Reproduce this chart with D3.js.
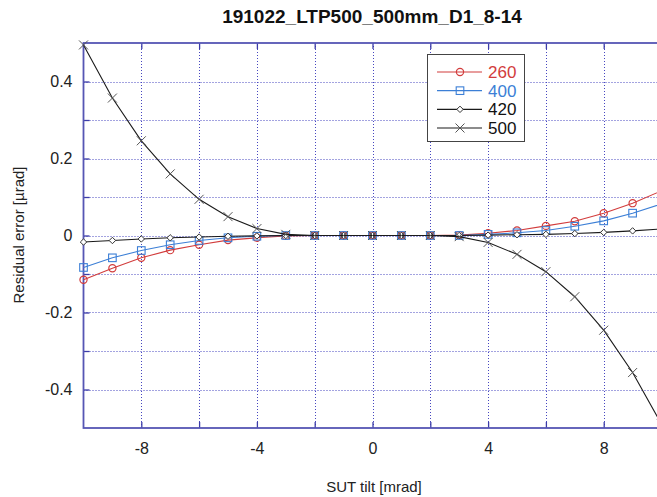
<!DOCTYPE html>
<html>
<head>
<meta charset="utf-8">
<script src="https://cdn.jsdelivr.net/npm/d3@7"></script>
<style>
  body { margin: 0; background: #fff; }
  text { font-family: "Liberation Sans", Arial, sans-serif; }
</style>
</head>
<body>
<div id="graph"></div>
<script>
// SUT tilt [mrad]
var tilt = [-10, -9, -8, -7, -6, -5, -4, -3, -2, -1, 0, 1, 2, 3, 4, 5, 6, 7, 8, 9, 10];

// residual error [µrad] per series
var s260 = [-0.115, -0.085, -0.058, -0.038, -0.024, -0.012, -0.006, -0.001, 0, 0, 0, 0, 0, 0.001, 0.006, 0.013, 0.025, 0.037, 0.058, 0.084, 0.116];
var s400 = [-0.083, -0.058, -0.039, -0.024, -0.013, -0.006, -0.002, 0, 0, 0, 0, 0, 0, 0, 0.003, 0.007, 0.013, 0.024, 0.038, 0.058, 0.082];
var s420 = [-0.017, -0.013, -0.009, -0.006, -0.004, -0.002, -0.001, 0, 0, 0, 0, 0, 0, 0, 0.001, 0.002, 0.003, 0.005, 0.008, 0.012, 0.017];
var s500 = [0.495, 0.357, 0.246, 0.16, 0.094, 0.049, 0.018, 0.003, 0, 0, 0, 0, 0, -0.003, -0.018, -0.049, -0.094, -0.159, -0.246, -0.356, -0.49];

var seriesNames = ["260", "400", "420", "500"];
var xTicks = [-8, -4, 0, 4, 8];
var yTicks = [-0.4, -0.2, 0, 0.2, 0.4];

var width = 657;
var height = 497;
var plotLeft = 83.5, plotRight = 661.5, plotTop = 43, plotBottom = 428;

var svg = d3.select("#graph").
append("svg").
attr("width", width).
attr("height", height);

var xScale = d3.scaleLinear().domain([-10, 10]).range([plotLeft, plotRight]);
var yScale = d3.scaleLinear().domain([-0.5, 0.5]).range([plotBottom, plotTop]);

var frameColor = "#5656b4";
var gridColor = "#4646c0";
var xGrid = d3.range(-8, 10, 2);
var yGrid = d3.range(-4, 5).map(function (d) {return d / 10;});

// grid (dotted)
var grid = svg.append("g");
grid.selectAll("line.gx").
data(xGrid).
enter().
append("line").
attr("x1", function (d) {return Math.round(xScale(d)) + 0.5;}).
attr("x2", function (d) {return Math.round(xScale(d)) + 0.5;}).
attr("y1", plotTop).
attr("y2", plotBottom).
style("stroke", gridColor).
style("stroke-dasharray", "1,2");

grid.selectAll("line.gy").
data(yGrid).
enter().
append("line").
attr("x1", plotLeft).
attr("x2", plotRight).
attr("y1", function (d) {return Math.round(yScale(d)) + 0.5;}).
attr("y2", function (d) {return Math.round(yScale(d)) + 0.5;}).
style("stroke", gridColor).
style("stroke-dasharray", "1,2");

function plainNum(d) {
  var r = Math.round(d * 10) / 10;
  return r === 0 ? "0" : String(r);
}

// axes with inward ticks
var xAxis = d3.axisBottom(xScale).tickValues(xGrid).tickSizeInner(-6).tickSizeOuter(0).
tickFormat(function (d) {return xTicks.indexOf(d) >= 0 ? String(d) : "";}).tickPadding(15);
var yAxis = d3.axisLeft(yScale).tickValues(yGrid).tickSizeInner(-6).tickSizeOuter(0).
tickFormat(function (d) {
  return yTicks.some(function (t) {return Math.abs(t - d) < 1e-9;}) ? plainNum(d) : "";
}).tickPadding(11);

var gx = svg.append("g").
attr("id", "x-axis").
attr("transform", "translate(0," + plotBottom + ")").
call(xAxis);
gx.select(".domain").remove();
gx.selectAll("line").style("stroke", "#3c3ca8").style("stroke-width", 1.3);
gx.selectAll("text").style("font-size", "16px").style("fill", "#222").style("font-family", "Liberation Sans, Arial, sans-serif");

var gxTop = svg.append("g").
attr("transform", "translate(0," + plotTop + ")").
call(d3.axisTop(xScale).tickValues(xGrid).tickSizeInner(-6).tickSizeOuter(0).tickFormat(""));
gxTop.select(".domain").remove();
gxTop.selectAll("line").style("stroke", "#3c3ca8").style("stroke-width", 1.3);

var gy = svg.append("g").
attr("id", "y-axis").
attr("transform", "translate(" + plotLeft + ",0)").
call(yAxis);
gy.select(".domain").remove();
gy.selectAll("line").style("stroke", "#3c3ca8").style("stroke-width", 1.3);
gy.selectAll("text").style("font-size", "16px").style("fill", "#222").style("font-family", "Liberation Sans, Arial, sans-serif");

// frame
svg.append("rect").
attr("x", plotLeft).
attr("y", plotTop).
attr("width", plotRight - plotLeft).
attr("height", plotBottom - plotTop).
style("fill", "none").
style("stroke", frameColor).
style("stroke-width", 1.8);

// series
var plot = svg.append("g");
var colors = {"260": "#d23c3c", "400": "#3c7fd6", "420": "#1a1a1a", "500": "#1a1a1a"};
var values = {"260": s260, "400": s400, "420": s420, "500": s500};

function marker(g, name, x, y) {
  var c = colors[name];
  if (name === "260") {
    g.append("circle").attr("cx", x).attr("cy", y).attr("r", 3.6).
    style("fill", "none").style("stroke", c).style("stroke-width", 1.2);
  } else if (name === "400") {
    g.append("rect").attr("x", x - 3.8).attr("y", y - 3.8).attr("width", 7.6).attr("height", 7.6).
    style("fill", "none").style("stroke", c).style("stroke-width", 1.1);
  } else if (name === "420") {
    g.append("path").attr("d", "M" + x + "," + (y - 3.2) + "L" + (x + 3.2) + "," + y + "L" + x + "," + (y + 3.2) + "L" + (x - 3.2) + "," + y + "Z").
    style("fill", "#fff").style("stroke", "#333").style("stroke-width", 1);
  } else {
    g.append("path").attr("d", "M" + (x - 4.5) + "," + (y - 4.5) + "L" + (x + 4.5) + "," + (y + 4.5) + "M" + (x - 4.5) + "," + (y + 4.5) + "L" + (x + 4.5) + "," + (y - 4.5)).
    style("stroke", "#555").style("stroke-width", 1);
  }
}

var line = d3.line().
x(function (d) {return xScale(d[0]);}).
y(function (d) {return yScale(d[1]);});

seriesNames.forEach(function (name) {
  var pts = tilt.map(function (t, i) {return [t, values[name][i]];});
  plot.append("path").
  datum(pts).
  attr("d", line).
  style("fill", "none").
  style("stroke", colors[name]).
  style("stroke-width", 1.1);
  var mg = plot.append("g");
  pts.forEach(function (p) {marker(mg, name, xScale(p[0]), yScale(p[1]));});
});

// title and labels
svg.append("text").
attr("id", "title").
attr("x", 372).
attr("y", 23).
style("text-anchor", "middle").
style("font-size", "19px").
style("font-weight", "bold").
style("fill", "#111").
text("191022_LTP500_500mm_D1_8-14");

svg.append("text").
attr("x", 374).
attr("y", 492).
style("text-anchor", "middle").
style("font-size", "15px").
style("fill", "#222").
text("SUT tilt [mrad]");

svg.append("text").
attr("transform", "translate(24," + 235 + ") rotate(-90)").
style("text-anchor", "middle").
style("font-size", "15px").
style("fill", "#222").
text("Residual error [µrad]");

// legend
var legend = svg.append("g").attr("id", "legend");
legend.append("rect").
attr("x", 427.5).
attr("y", 54.5).
attr("width", 97).
attr("height", 87).
style("fill", "#fff").
style("stroke", "#444").
style("stroke-width", 1);

var legendY = d3.scalePoint().domain(seriesNames).range([72, 128]);
seriesNames.forEach(function (name) {
  var y = legendY(name);
  legend.append("line").
  attr("x1", 437).attr("x2", 482).
  attr("y1", y).attr("y2", y).
  style("stroke", colors[name]).
  style("stroke-width", 1.1);
  marker(legend, name, 460, y);
  legend.append("text").
  attr("x", 488).
  attr("y", y).
  attr("dy", "0.36em").
  style("font-size", "17px").
  style("fill", name === "260" ? "#d23c3c" : name === "400" ? "#3c7fd6" : "#111").
  text(name);
});
</script>
</body>
</html>
